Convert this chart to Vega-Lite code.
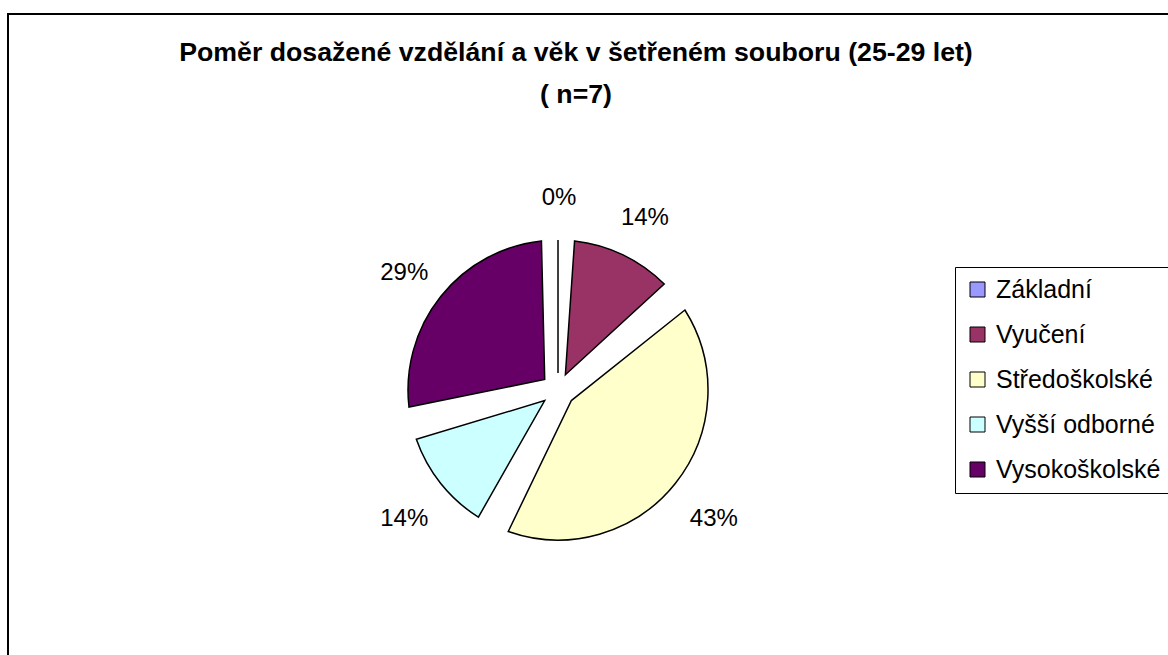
{
  "$schema": "https://vega.github.io/schema/vega-lite/v6.json",
  "width": 1170,
  "height": 660,
  "autosize": {"type": "none"},
  "padding": {"left": 8, "top": 14, "right": 0, "bottom": 0},
  "background": "white",
  "view": {"stroke": "black", "strokeWidth": 2, "fill": "white"},
  "config": {
    "view": {"stroke": "black", "strokeWidth": 2},
    "font": "Liberation Sans",
    "legend": {
      "orient": "none",
      "legendX": 947,
      "legendY": 253,
      "strokeColor": "black",
      "padding": 10,
      "symbolType": "square",
      "symbolSize": 225,
      "symbolStrokeColor": "black",
      "symbolStrokeWidth": 1,
      "symbolOpacity": 1,
      "labelFontSize": 25,
      "labelFont": "Liberation Sans",
      "labelColor": "black",
      "rowPadding": 19,
      "labelOffset": 6,
      "labelLimit": 400
    }
  },
  "title": {
    "text": ["Poměr dosažené vzdělání a věk v šetřeném souboru (25-29 let)", "( n=7)"],
    "fontSize": 26.7,
    "fontWeight": "bold",
    "font": "Liberation Sans",
    "color": "black",
    "lineHeight": 42,
    "offset": -95,
    "dx": -17,
    "anchor": "middle"
  },
  "data": {
    "values": [
      {"vzdelani": "Základní", "pocet": 0, "poradi": 1},
      {"vzdelani": "Vyučení", "pocet": 1, "poradi": 2},
      {"vzdelani": "Středoškolské", "pocet": 3, "poradi": 3},
      {"vzdelani": "Vyšší odborné", "pocet": 1, "poradi": 4},
      {"vzdelani": "Vysokoškolské", "pocet": 2, "poradi": 5}
    ]
  },
  "transform": [
    {"joinaggregate": [{"op": "sum", "field": "pocet", "as": "celkem"}]},
    {"calculate": "datum.pocet / datum.celkem", "as": "podil"}
  ],
  "encoding": {
    "theta": {"field": "pocet", "type": "quantitative", "stack": true},
    "order": {"field": "poradi", "type": "quantitative"}
  },
  "layer": [
    {
      "mark": {"type": "arc", "outerRadius": 150, "innerRadius": 17, "padAngle": 0.22, "stroke": "black", "strokeWidth": 1.5, "xOffset": -35, "yOffset": 46},
      "encoding": {
        "color": {
          "field": "vzdelani",
          "type": "nominal",
          "sort": ["Základní", "Vyučení", "Středoškolské", "Vyšší odborné", "Vysokoškolské"],
          "scale": {
            "domain": ["Základní", "Vyučení", "Středoškolské", "Vyšší odborné", "Vysokoškolské"],
            "range": ["#9999FF", "#993366", "#FFFFCC", "#CCFFFF", "#660066"]
          },
          "legend": {"title": null}
        }
      }
    },
    {
      "mark": {"type": "text", "radius": 198, "fontSize": 24, "color": "black", "align": "center", "baseline": "middle", "xOffset": -34, "yOffset": 52},
      "encoding": {
        "text": {"field": "podil", "type": "quantitative", "format": ".0%"}
      }
    }
  ]
}
